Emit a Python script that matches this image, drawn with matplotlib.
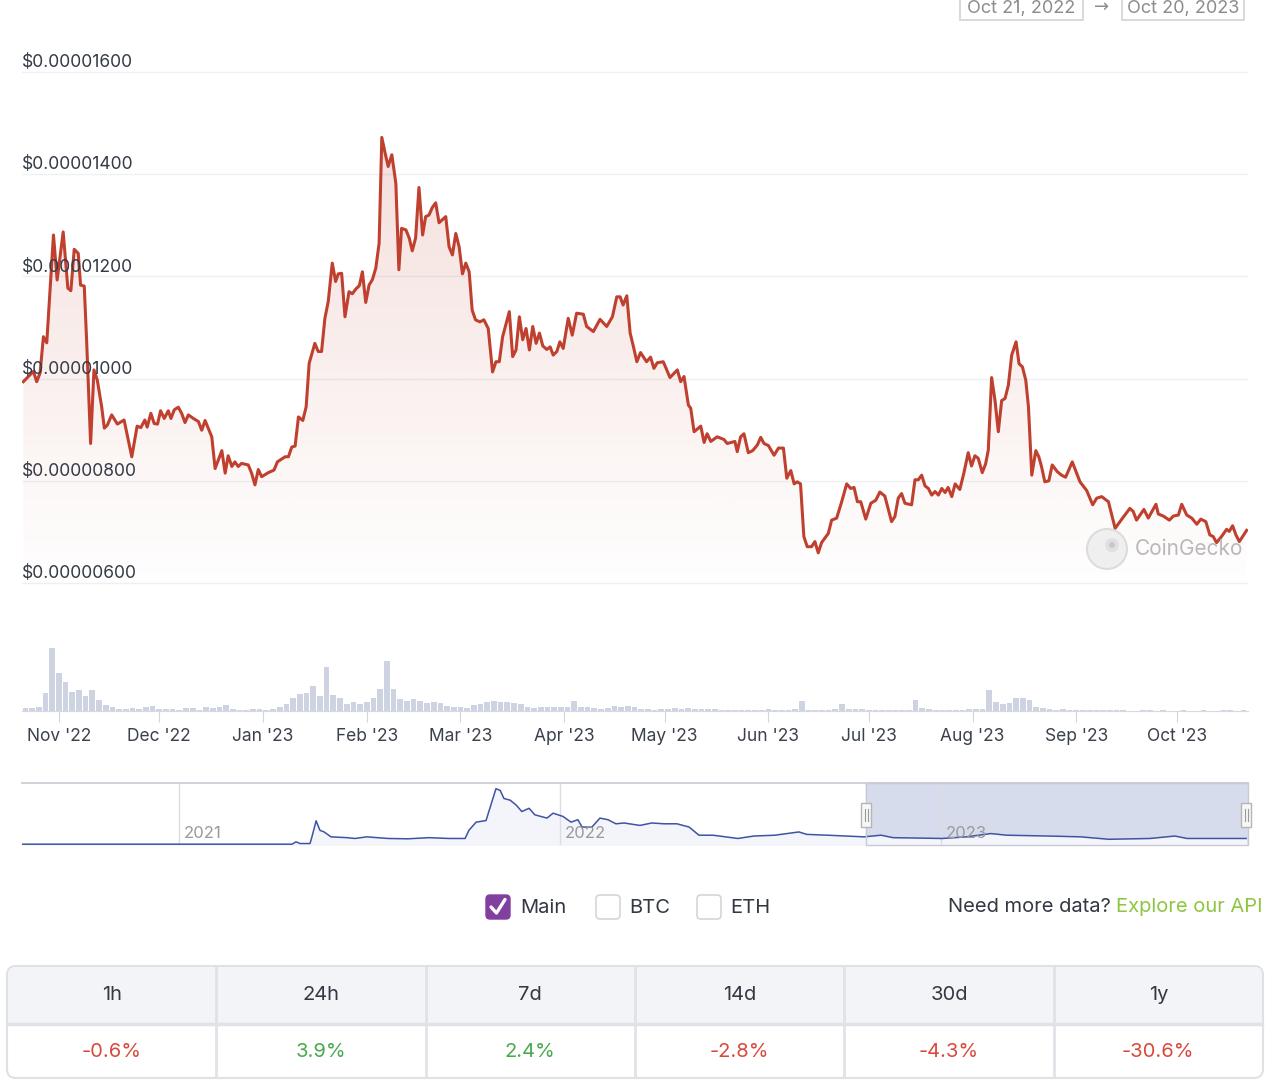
import matplotlib
matplotlib.use("Agg")
import matplotlib.pyplot as plt
import matplotlib.dates as mdates
from matplotlib.patches import FancyBboxPatch, Rectangle, Circle, Polygon
import numpy as np
import datetime as dt

plt.rcParams['font.family'] = ['Inter', 'DejaVu Sans']

start = dt.datetime(2022, 10, 21)

# price: days since Oct 21 2022, value in millionths of a dollar
price_day = [0.4,1.9,3.4,4.4,5.4,6.4,7.4,9.4,10.5,12.3,13.7,14.6,15.6,16.8,17.5,18.6,19.3,20.5,21.5,22.5,
             23.8,24.6,25.5,26.8,28.5,30.5,32.8,34.4,35.5,36.7,37.4,38.5,39.5,40.5,41.4,42.5,43.7,44.5,45.5,46.7,
             47.7,48.7,49.7,51.2,52.7,53.7,54.7,56.7,57.7,59.7,60.7,61.6,62.7,63.6,64.6,65.6,67.6,68.6,69.6,70.6,
             71.6,73.6,75.3,76.3,78.6,79.6,80.6,81.6,82.6,83.9,84.9,85.8,87.5,88.5,89.5,90.5,91.5,92.7,93.7,94.5,
             95.5,96.5,97.7,98.7,99.7,100.8,101.7,102.7,103.7,104.7,105.7,106.7,107.5,108.5,109.4,110.5,111.7,112.6,113.4,114.7,
             115.7,116.6,117.6,118.6,119.7,120.6,121.6,122.6,123.6,124.6,126.6,127.6,128.6,129.6,130.6,131.6,132.6,133.6,134.5,135.5,
             136.8,138.0,139.3,140.6,141.6,142.6,143.6,145.6,146.6,147.6,148.6,149.6,150.6,151.6,152.6,153.6,154.6,155.6,156.8,157.8,
             158.7,159.8,160.7,161.7,163.2,164.4,165.7,167.7,168.7,170.7,172.7,174.7,176.4,177.7,178.7,179.6,180.7,181.7,182.7,183.7,
             184.8,186.6,187.8,188.8,189.8,191.6,193.6,195.8,196.8,197.8,199.1,199.8,200.8,202.8,203.8,204.7,205.8,207.7,209.7,210.7,
             213.0,213.7,214.7,215.7,217.0,218.3,219.7,220.7,221.7,223.0,224.7,226.0,227.5,228.5,229.7,230.7,231.6,232.6,233.6,234.6,
             235.9,236.9,237.9,238.9,240.9,241.9,243.4,244.9,246.4,247.6,248.6,249.6,250.6,252.1,253.6,255.1,256.3,257.8,259.8,260.8,
             261.8,262.8,263.8,265.8,266.8,267.8,268.8,269.8,270.8,271.8,272.8,273.8,274.8,275.8,276.7,277.8,278.8,280.2,281.4,282.7,
             283.7,284.7,285.7,286.9,287.9,288.7,289.7,290.7,291.7,292.7,293.7,294.7,295.7,297.0,297.9,298.9,299.9,300.7,301.7,302.9,
             303.8,304.6,305.6,306.8,307.8,309.3,310.6,311.8,313.8,315.1,316.1,318.1,319.9,321.1,322.6,324.6,326.6,328.6,331.0,332.0,
             333.0,335.2,336.5,338.8,339.5,341.0,342.8,344.0,345.5,346.5,348.0,349.5,351.0,352.2,353.7,354.9,355.9,356.9,358.4,359.9,
             360.7,361.7,362.7,363.7,365.9]
price_musd = [9.94,10.04,10.14,9.94,10.11,10.82,10.70,12.81,11.93,12.87,11.77,11.72,12.53,12.45,11.83,11.81,10.76,8.73,10.17,9.97,
              9.45,9.03,9.09,9.29,9.11,9.19,8.47,9.07,9.04,9.19,9.05,9.32,9.12,9.11,9.37,9.22,9.37,9.22,9.39,9.44,
              9.32,9.14,9.29,9.22,9.16,8.99,9.18,8.86,8.24,8.59,8.15,8.49,8.28,8.37,8.28,8.34,8.31,8.15,7.92,8.22,
              8.08,8.16,8.21,8.37,8.47,8.47,8.66,8.68,9.25,9.18,9.45,10.30,10.69,10.53,10.53,11.18,11.51,12.26,11.90,12.05,
              12.06,11.21,11.70,11.66,11.75,11.82,12.09,11.49,11.83,11.94,12.16,12.65,14.72,14.41,14.15,14.38,13.82,12.13,12.94,12.91,
              12.75,12.50,12.75,13.74,12.81,13.17,13.20,13.35,13.44,13.05,13.17,12.58,12.42,12.84,12.58,12.05,12.26,12.09,11.34,11.15,
              11.11,11.15,10.98,10.13,10.33,10.33,10.82,11.31,10.43,10.56,11.21,10.76,10.98,10.56,11.02,10.69,10.89,10.64,10.57,10.62,
              10.46,10.53,10.72,10.59,11.18,10.85,11.28,11.26,11.02,10.92,11.16,11.02,11.21,11.60,11.60,11.44,11.62,10.89,10.62,10.33,
              10.51,10.33,10.42,10.20,10.31,10.33,10.02,10.17,9.94,10.04,9.48,9.42,8.96,9.07,8.75,8.92,8.77,8.86,8.81,8.73,
              8.77,8.57,8.86,8.92,8.55,8.59,8.70,8.85,8.73,8.69,8.50,8.64,8.64,8.05,8.20,7.94,7.98,7.94,6.91,6.71,
              6.71,6.81,6.59,6.79,6.97,7.23,7.27,7.59,7.94,7.85,7.87,7.59,7.59,7.25,7.56,7.62,7.78,7.70,7.20,7.30,
              7.66,7.75,7.56,7.53,8.02,8.02,8.11,7.90,7.85,7.72,7.79,7.72,7.85,7.77,7.87,7.69,7.94,7.83,8.15,8.55,
              8.29,8.49,8.44,8.16,8.33,8.60,10.02,9.58,8.96,9.57,9.61,9.87,10.46,10.72,10.29,10.23,9.97,9.45,8.11,8.59,
              8.47,8.28,7.98,8.00,8.31,8.18,8.11,8.07,8.37,8.15,7.98,7.81,7.53,7.66,7.69,7.59,7.07,7.25,7.46,7.40,
              7.23,7.44,7.27,7.54,7.35,7.31,7.23,7.31,7.33,7.54,7.33,7.27,7.15,7.25,7.20,6.94,6.91,6.79,6.91,7.05,
              7.01,7.12,6.94,6.81,7.03]

# volume, two-day buckets (relative units)
volume = [10,10,15,60,215,128,100,65,70,50,
          70,36,20,12,8,6,10,8,14,16,
          8,8,6,4,10,10,4,12,10,14,
          20,8,3,3,8,6,2,8,12,25,
          45,58,60,85,50,150,55,45,25,30,
          25,30,45,75,172,75,40,35,40,35,
          28,30,28,18,15,12,10,22,25,30,
          35,30,30,28,25,12,10,15,14,12,
          12,14,35,15,12,10,8,10,18,15,
          18,15,6,6,5,6,8,10,8,10,
          8,7,8,6,5,3,2,5,4,5,
          4,6,5,4,5,6,34,5,4,5,
          4,8,24,8,6,8,4,3,4,3,
          4,3,4,37,10,6,3,4,3,4,
          5,8,7,8,72,30,25,28,45,45,
          38,12,10,6,5,6,4,2,4,3,
          2,4,2,3,3,0,0,3,3,0,
          3,0,0,3,0,0,3,0,0,3,
          3,0,3]

# navigator: fractional year, price in millionths of a dollar
nav_year = [2020.588,2021.297,2021.307,2021.318,2021.344,2021.349,2021.360,2021.370,2021.381,2021.399,
            2021.441,2021.462,2021.493,2021.549,2021.601,2021.656,2021.709,2021.751,2021.761,2021.780,
            2021.806,2021.816,2021.832,2021.843,2021.853,2021.869,2021.885,2021.900,2021.919,2021.934,
            2021.966,2021.982,2022.008,2022.029,2022.047,2022.058,2022.084,2022.105,2022.126,2022.147,
            2022.168,2022.210,2022.241,2022.273,2022.307,2022.339,2022.365,2022.402,2022.467,2022.509,
            2022.564,2022.627,2022.648,2022.703,2022.798,2022.843,2022.874,2023.003,2023.068,2023.131,
            2023.173,2023.281,2023.367,2023.441,2023.549,2023.614,2023.646,2023.801]
nav_musd = [0,0,2.9,0.8,0.8,9,28.7,17,15,9,
            8,7,9,7,6.6,8,7,7,17,27,
            29,44,68,66,56,54,48,40,44,36,
            32,38,34,27,30,21,21,32,30,25,
            26,23,26,25,25,21,11,11,7,10,
            11,15,12,11,9,11,8,7,9,13,
            11,10,9,6,7,10,7,7]

periods = ["1h", "24h", "7d", "14d", "30d", "1y"]
changes = [-0.6, 3.9, 2.4, -2.8, -4.3, -30.6]

W, H = 1280, 1086
fig = plt.figure(figsize=(W/100, H/100), dpi=100)
fig.patch.set_facecolor("white")

def box(x0, y0, x1, y1):
    return [x0/W, 1-y1/H, (x1-x0)/W, (y1-y0)/H]

d0 = mdates.date2num(start)
xmax = d0 + 366.3

# ---- price chart
ax = fig.add_axes(box(22, 40, 1248, 595))
px = d0 + np.array(price_day)
py = np.array(price_musd) * 1e-6
ymin, ymax = 5.765e-6, 16.626e-6
line_col = "#c0402f"

poly = Polygon([(px[0], ymin)] + list(zip(px, py)) + [(px[-1], ymin)],
               closed=True, facecolor="none", edgecolor="none")
ax.add_patch(poly)
grad = np.zeros((256, 1, 4))
grad[:, 0, 0] = 192/255
grad[:, 0, 1] = 64/255
grad[:, 0, 2] = 47/255
grad[:, 0, 3] = np.linspace(0.17, 0.0, 256)
im = ax.imshow(grad, extent=[px[0], px[-1], ymin, 14.8e-6], origin="upper",
               aspect="auto", zorder=1)
im.set_clip_path(poly)
ax.plot(px, py, color=line_col, lw=2.2, zorder=3, solid_joinstyle="round")

for v in [6, 8, 10, 12, 14, 16]:
    ax.axhline(v*1e-6, color="#eef0f4", lw=1, zorder=0)
    ax.annotate(f"${v*1e-6:.8f}", xy=(0, v*1e-6), xycoords=("axes fraction", "data"),
                xytext=(0, 0.5), textcoords="offset points", ha="left", va="bottom",
                fontsize=12.6, color="#343a46", zorder=4)
ax.set_xlim(d0, xmax)
ax.set_ylim(ymin, ymax)
ax.axis("off")

# ---- volume
axv = fig.add_axes(box(22, 640, 1248, 711))
vx = d0 + 1 + 2*np.arange(len(volume))
axv.bar(vx, volume, width=1.7, color="#cdd3e0", linewidth=0)
axv.set_xlim(d0, xmax)
axv.set_ylim(0, 242)
for s in ["top", "left", "right"]:
    axv.spines[s].set_visible(False)
axv.spines["bottom"].set_color("#d5d9e1")
axv.set_yticks([])
axv.xaxis.set_major_locator(mdates.MonthLocator())
axv.xaxis.set_major_formatter(mdates.DateFormatter("%b '%y"))
axv.tick_params(axis="x", length=8, color="#cfd4dd", labelsize=12.5,
                labelcolor="#3a404c", pad=4)
axv.patch.set_alpha(0)

# ---- navigator
axn = fig.add_axes(box(22, 783, 1248, 845))
nx0, nx1 = 2020.588, 2023.806
axn.axvspan(2022.803, nx1, color="#d6dcec", zorder=0)
axn.fill_between(nav_year, nav_musd, -1, color="#f3f5fa", zorder=1)
axn.plot(nav_year, nav_musd, color="#3e54a3", lw=1.1, zorder=3)
for yr in [2021, 2022, 2023]:
    axn.axvline(yr, color="#dcdde2", lw=1, zorder=2)
    axn.text(yr + 0.012, 3.5, str(yr), fontsize=12, color="#9a9a9a", va="bottom", zorder=4)
axn.set_xlim(nx0, nx1)
axn.set_ylim(-1, 75)
axn.set_xticks([])
axn.set_yticks([])
for s in ["bottom", "left", "right"]:
    axn.spines[s].set_visible(False)
axn.spines["top"].set_color("#cfd2d8")
axn.spines["top"].set_linewidth(1.5)

# ---- overlay in pixel coordinates
ov = fig.add_axes([0, 0, 1, 1])
ov.set_xlim(0, W)
ov.set_ylim(H, 0)
ov.axis("off")
ov.patch.set_alpha(0)

# selection outline and handles
ov.add_patch(Rectangle((866, 783), 382, 62, facecolor="none", edgecolor="#c6cad3", lw=1))
for hx in [866, 1246]:
    ov.add_patch(Rectangle((hx-5, 803), 10, 24, facecolor="#f7f7f7", edgecolor="#b5b5b5", lw=1))
    ov.plot([hx-1.5, hx-1.5], [809, 821], color="#999999", lw=0.8)
    ov.plot([hx+1.5, hx+1.5], [809, 821], color="#999999", lw=0.8)

# date range boxes at the top
ov.add_patch(Rectangle((960, -10), 123, 30, facecolor="white", edgecolor="#d2d2d2", lw=1.2))
ov.add_patch(Rectangle((1122, -10), 122, 30, facecolor="white", edgecolor="#d2d2d2", lw=1.2))
ov.text(1021, 13, "Oct 21, 2022", ha="center", va="baseline", fontsize=13, color="#8c8c8c")
ov.text(1183, 13, "Oct 20, 2023", ha="center", va="baseline", fontsize=13, color="#8c8c8c")
ov.text(1102, 12, "→", ha="center", va="baseline", fontsize=13, color="#8c8c8c",
        family=["DejaVu Sans"])

# watermark
ov.add_patch(Circle((1107, 549), 20, facecolor="#efefef", edgecolor="#dcdcdc", lw=1.5, zorder=5))
ov.add_patch(Circle((1112, 545), 7, facecolor="#e0e0e0", edgecolor="none", zorder=6))
ov.add_patch(Circle((1112, 545), 3, facecolor="#c8c8c8", edgecolor="none", zorder=7))
ov.text(1135, 549, "CoinGecko", ha="left", va="center", fontsize=15, color="#b9b9b9", zorder=6)

# checkboxes
ov.add_patch(FancyBboxPatch((486, 895), 24, 24, boxstyle="round,pad=0,rounding_size=4",
                            facecolor="#813f9f", edgecolor="#813f9f"))
ov.plot([491, 496.5, 505], [907, 913, 899.5], color="white", lw=2.4, solid_capstyle="round")
ov.text(520, 908, "Main", ha="left", va="center", fontsize=14.5, color="#333842")
for bx, lab in [(596, "BTC"), (697, "ETH")]:
    ov.add_patch(FancyBboxPatch((bx, 895), 24, 24, boxstyle="round,pad=0,rounding_size=4",
                                facecolor="white", edgecolor="#d5d5d5", lw=1.2))
    ov.text(bx + 33, 908, lab, ha="left", va="center", fontsize=14.5, color="#333842")
t_api = ov.text(1263, 907, "Explore our API", ha="right", va="center", fontsize=14.5, color="#8dc63f")
ov.annotate("Need more data? ", xy=(0, 0.5), xycoords=t_api, ha="right", va="center",
            fontsize=14.5, color="#333842")

# change table
tx0, tx1, ty0, ty1, tmid = 7, 1263, 966, 1078, 1024
ov.add_patch(FancyBboxPatch((tx0, ty0), tx1-tx0, ty1-ty0, boxstyle="round,pad=0,rounding_size=9",
                            facecolor="white", edgecolor="#dfe1e6", lw=1.5, zorder=1))
ov.add_patch(FancyBboxPatch((tx0+1, ty0+1), tx1-tx0-2, tmid-ty0-1, boxstyle="round,pad=0,rounding_size=8",
                            facecolor="#f3f4f8", edgecolor="none", zorder=2))
ov.add_patch(Rectangle((tx0+1, 990), tx1-tx0-2, tmid-990, facecolor="#f3f4f8", edgecolor="none", zorder=2))
ov.plot([tx0+1, tx1-1], [tmid, tmid], color="#e0e2e7", lw=2.5, zorder=3)
colw = (tx1 - tx0) / len(periods)
for i, (per, ch) in enumerate(zip(periods, changes)):
    cx = tx0 + colw*(i + 0.5)
    if i > 0:
        ov.plot([tx0 + colw*i]*2, [ty0+1, ty1-1], color="#e0e2e7", lw=2, zorder=3)
    ov.text(cx, 995, per, ha="center", va="center", fontsize=14.5, color="#333842", zorder=4)
    col = "#4aa84e" if ch > 0 else "#d9493b"
    ov.text(cx, 1052, f"{ch:.1f}%", ha="center", va="center", fontsize=14.5, color=col, zorder=4)

fig.savefig("out.png", dpi=100, facecolor="white")
